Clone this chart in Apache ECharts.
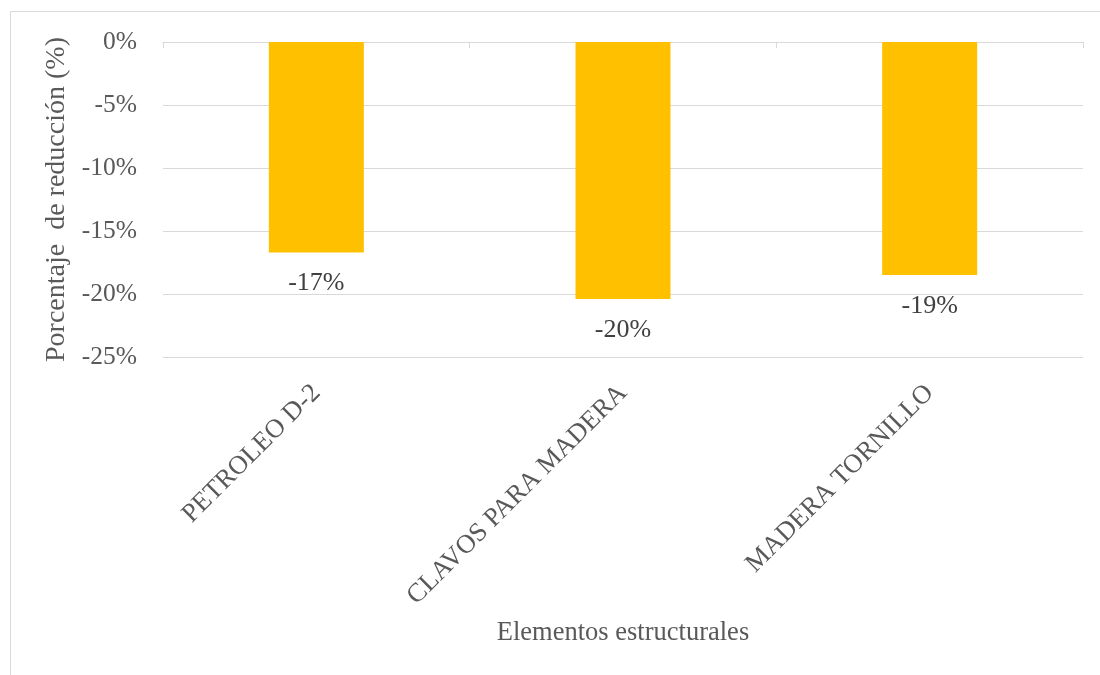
<!DOCTYPE html>
<html>
<head>
<meta charset="utf-8">
<script src="https://cdn.jsdelivr.net/npm/echarts@6/dist/echarts.min.js"></script>
<style>html,body{margin:0;padding:0;background:#fff}#c{width:1100px;height:675px}</style>
</head>
<body>
<div id="c"></div>
<script>
const categories = ['PETROLEO D-2', 'CLAVOS PARA MADERA', 'MADERA TORNILLO'];
const values = [-16.7, -20.4, -18.5];
const labels = ['-17%', '-20%', '-19%'];
const yTicks = { min: -25, max: 0, interval: 5 };
const xTitle = 'Elementos estructurales';
const yTitle = 'Porcentaje  de reducción (%)';

const FONT = '"Liberation Serif", "Times New Roman", serif';
const chart = echarts.init(document.getElementById('c'), null, { renderer: 'canvas' });
chart.setOption({
  animation: false,
  backgroundColor: '#fff',
  graphic: [{ type: 'rect', shape: { x: 10.5, y: 11.5, width: 1200, height: 800 }, style: { fill: 'none', stroke: '#d9d9d9', lineWidth: 1 }, silent: true }],
  grid: { left: 163, right: 17, top: 42, bottom: 318 },
  xAxis: [
    {
      type: 'category', data: categories, position: 'top',
      axisLine: { show: true, lineStyle: { color: '#d9d9d9', width: 1 } },
      axisTick: { show: true, inside: true, length: 6, lineStyle: { color: '#d9d9d9' } },
      axisLabel: { show: false }, splitLine: { show: false }
    },
    {
      type: 'category', data: categories, position: 'bottom',
      axisLine: { show: false }, axisTick: { show: false },
      axisLabel: { rotate: 45, margin: 32, color: '#595959', fontFamily: FONT, fontSize: 26.5 },
      name: xTitle, nameLocation: 'middle', nameGap: 263,
      nameTextStyle: { color: '#595959', fontFamily: FONT, fontSize: 26.5 }
    }
  ],
  yAxis: {
    type: 'value', min: yTicks.min, max: yTicks.max, interval: yTicks.interval,
    axisLine: { show: false }, axisTick: { show: false },
    axisLabel: { formatter: v => v + '%', color: '#595959', fontFamily: FONT, fontSize: 25.5, margin: 26 },
    splitLine: { lineStyle: { color: '#d9d9d9', width: 1 } },
    name: yTitle, nameLocation: 'middle', nameGap: 88,
    nameTextStyle: { color: '#595959', fontFamily: FONT, fontSize: 28 }
  },
  series: [{
    type: 'bar', xAxisIndex: 1, data: values, barWidth: 95,
    itemStyle: { color: '#FFC000' },
    label: { show: true, position: 'bottom', distance: 18, color: '#404040', fontFamily: FONT, fontSize: 26,
      formatter: p => labels[p.dataIndex] }
  }]
});
</script>
</body>
</html>
